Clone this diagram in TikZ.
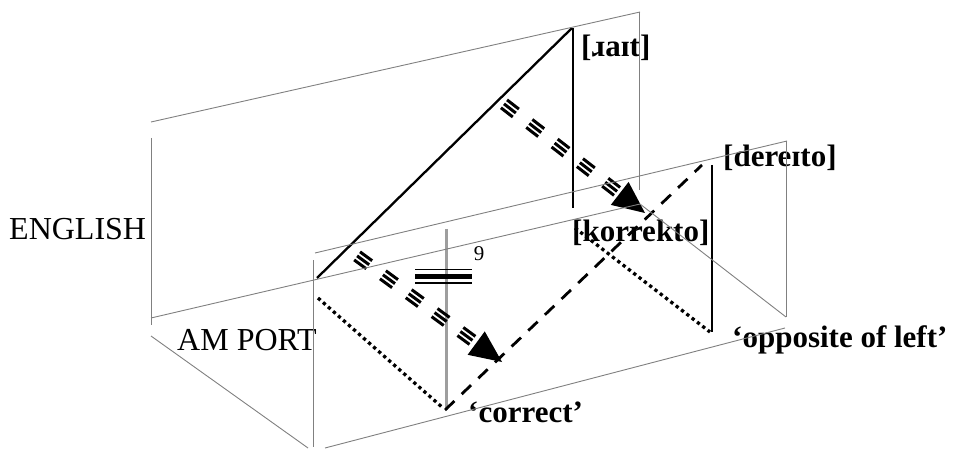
\documentclass[tikz,border=0pt]{standalone}
\usepackage{fontspec}
\setmainfont{Liberation Serif}
\usetikzlibrary{calc}
\begin{document}
\begin{tikzpicture}[x=1pt,y=-1pt,
  frame/.style={draw=black!50, line width=0.9pt},
  ink/.style={draw=black, line width=2.3pt},
  greyink/.style={draw=black!38, line width=3pt},
  dotline/.style={draw=black, line width=3.3pt, dash pattern=on 3.3pt off 3.4pt},
  dashline/.style={draw=black, line width=2.8pt, dash pattern=on 13pt off 10pt},
  tripdash/.style={draw=black, line width=3pt, dash pattern=on 15pt off 17pt},
  lbl/.style={font=\fontsize{32}{32}\selectfont, inner sep=0pt, anchor=base west},
  blbl/.style={font=\fontsize{31}{31}\selectfont\bfseries, inner sep=0pt, anchor=base west},
]
\useasboundingbox (0,0) rectangle (953,449);

% ---------- labels ----------
\node[lbl]  (eng)  at (9,240)   {ENGLISH};
\node[lbl]  (amp)  at (177,350) {AM PORT};
\node[blbl] (rait) at (581,57)  {[ɹaɪt]};
\node[blbl] (dere) at (723,167) {[dereɪto]};
\node[blbl] (korr) at (572,241) {[korrekto]};
\node[blbl] (corr) at (468,422) {‘correct’};
\node[blbl] (opp)  at (732,347) {‘opposite of left’};
\node[font=\fontsize{21}{21}\selectfont, inner sep=0pt] (nine) at (479,254) {9};

% ---------- coordinates ----------
\coordinate (bTL) at (151,122); \coordinate (bTR) at (640,12);
\coordinate (bL1) at (151,138); \coordinate (bL2) at (151,325);
\coordinate (bBL) at (151,318); \coordinate (bBR) at (640,204);
\coordinate (bR1) at (639,12);  \coordinate (bR2) at (639,190);
\coordinate (dL1) at (151,336); \coordinate (dL2) at (308,448);
\coordinate (dR1) at (640,204); \coordinate (dR2) at (786,317);
\coordinate (fTL) at (315,253); \coordinate (fTR) at (787,141);
\coordinate (fL1) at (313,260); \coordinate (fL2) at (313,447);
\coordinate (fR1) at (786,141); \coordinate (fR2) at (786,317);
\coordinate (fBL) at (325,448); \coordinate (fBR) at (785,328);

\coordinate (s1) at (317,278); \coordinate (s2) at (572,28);
\coordinate (v1) at (573,28);  \coordinate (v2) at (573,208);
\coordinate (w1) at (712,165); \coordinate (w2) at (712,332);
\coordinate (g1) at (446,229); \coordinate (g2) at (446,410);
\coordinate (p1) at (318,298); \coordinate (p2) at (443,408);
\coordinate (q1) at (575,228); \coordinate (q2) at (710,332);
\coordinate (c1) at (445,410); \coordinate (c2) at (702,165);
\coordinate (la1) at (347,248.5); \coordinate (la2) at (502,362);
\coordinate (ua1) at (499,100);   \coordinate (ua2) at (645,213);
\coordinate (t1) at (415,0); \coordinate (t2) at (472,0);

% ---------- black drawing ----------
\draw[greyink] (g1) -- (g2);
\draw[ink] (s1) -- (s2);
\draw[ink, line width=2.6pt] (v1) -- (v2);
\draw[ink, line width=2.6pt] (w1) -- (w2);
\draw[dotline] (p1) -- (p2);
\draw[dotline] (q1) -- (q2);
\draw[dashline] (c1) -- (c2);

% triple legend segment
\draw[black, line width=1.7pt] ($(t1)+(0,269.5)$) -- ($(t2)+(0,269.5)$);
\draw[black, line width=4.8pt] ($(t1)+(0,276.3)$) -- ($(t2)+(0,276.3)$);
\draw[black, line width=1.7pt] ($(t1)+(0,283)$) -- ($(t2)+(0,283)$);

% triple dashed arrows
\coordinate (lab) at ($(la2)!32pt!(la1)$);
\foreach \o in {-5pt,0pt,5pt}
  \draw[tripdash, dash phase=19.5pt] ($(la1)!\o!90:(la2)$) -- ($(lab)!\o!-90:(la1)$);
\fill[black] (la2) -- ($(lab)!14.5pt!90:(la2)$) -- ($(lab)!14.5pt!-90:(la2)$) -- cycle;

\coordinate (uab) at ($(ua2)!32pt!(ua1)$);
\foreach \o in {-5pt,0pt,5pt}
  \draw[tripdash, dash phase=25.7pt] ($(ua1)!\o!90:(ua2)$) -- ($(uab)!\o!-90:(ua1)$);
\fill[black] (ua2) -- ($(uab)!14.5pt!90:(ua2)$) -- ($(uab)!14.5pt!-90:(ua2)$) -- cycle;

% ---------- planes (thin grey) ----------
\draw[frame] (bTL) -- (bTR);
\draw[frame] (bL1) -- (bL2);
\draw[frame] (bBL) -- (bBR);
\draw[frame] (bR1) -- (bR2);
\draw[frame] (dL1) -- (dL2);
\draw[frame] (dR1) -- (dR2);
\draw[frame] (fTL) -- (fTR);
\draw[frame] (fL1) -- (fL2);
\draw[frame] (fR1) -- (fR2);
\draw[frame] (fBL) -- (fBR);
\end{tikzpicture}
\end{document}
